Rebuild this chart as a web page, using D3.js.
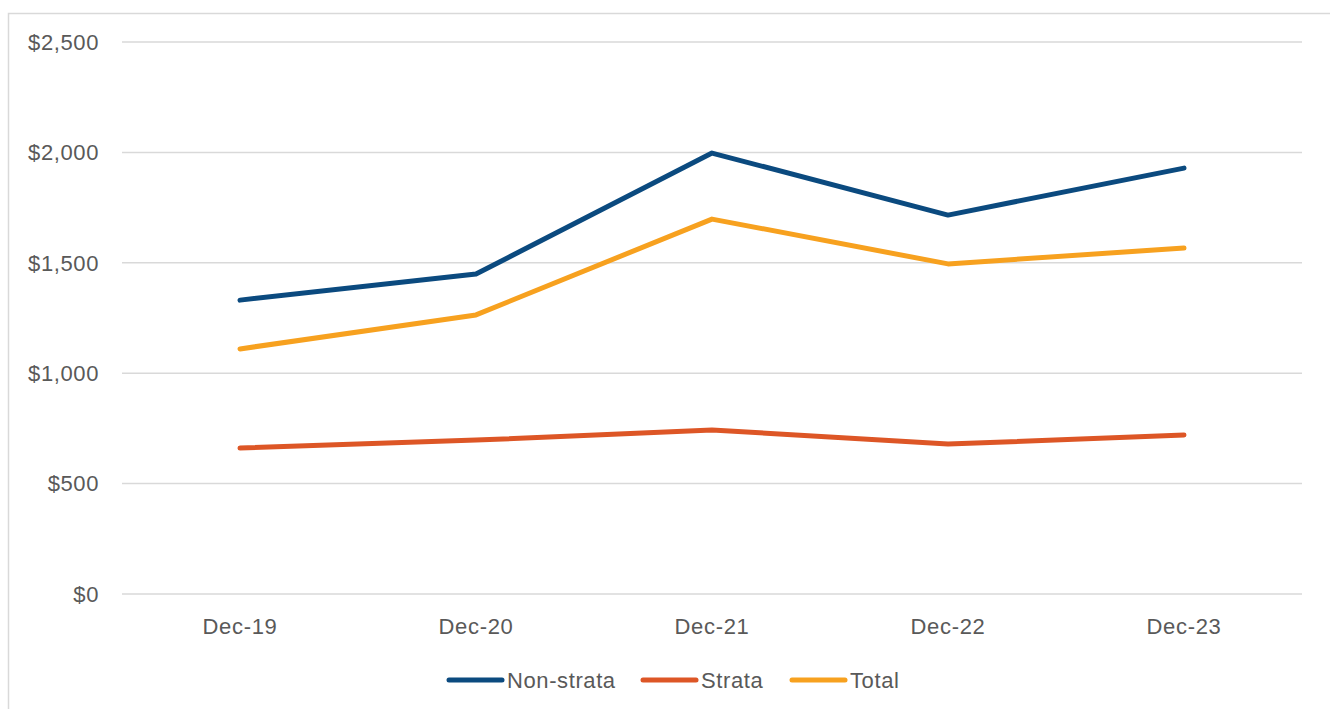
<!DOCTYPE html>
<html>
<head>
<meta charset="utf-8">
<script src="https://cdn.jsdelivr.net/npm/d3@7"></script>
<style>
  body { margin: 0; background: #fff; }
  svg { display: block; font-family: "Liberation Sans", Arial, sans-serif; }
</style>
</head>
<body>
<svg id="chart" width="1330" height="709"></svg>
<script>
// chart data
var categories = ['Dec-19', 'Dec-20', 'Dec-21', 'Dec-22', 'Dec-23']
var nonStrata = [1331, 1449, 1997, 1716, 1929]
var strata = [661, 697, 743, 679, 720]
var total = [1110, 1264, 1698, 1495, 1567]
var yTicks = [0, 500, 1000, 1500, 2000, 2500]

var seriesNames = ['Non-strata', 'Strata', 'Total']
var seriesValues = [nonStrata, strata, total]
var seriesColors = ['#0b4a7f', '#dd5626', '#f7a11f']

var svg = d3.select('#chart')
var textCol = '#595959'

// outer frame
svg.append('rect')
  .attr('x', 8.5).attr('y', 13.5)
  .attr('width', 1340).attr('height', 720)
  .attr('fill', 'none')
  .attr('stroke', '#d9d9d9')
  .attr('stroke-width', 1.5)

var plotLeft = 122
var plotRight = 1302
var plotTop = 42
var plotBottom = 594

var x = d3.scaleBand().domain(categories).range([plotLeft, plotRight])
var y = d3.scaleLinear().domain([0, 2500]).range([plotBottom, plotTop])

// gridlines
svg.append('g').selectAll('line')
  .data(yTicks)
  .enter().append('line')
  .attr('x1', plotLeft).attr('x2', plotRight)
  .attr('y1', function (d) { return y(d) })
  .attr('y2', function (d) { return y(d) })
  .attr('stroke', '#d9d9d9')
  .attr('stroke-width', 1.5)

// y labels
var fmt = d3.format(',')
svg.append('g').selectAll('text')
  .data(yTicks)
  .enter().append('text')
  .attr('x', 99)
  .attr('y', function (d) { return y(d) })
  .attr('dy', '0.35em')
  .attr('text-anchor', 'end')
  .attr('font-size', 22)
  .attr('letter-spacing', 0.6)
  .attr('fill', textCol)
  .text(function (d) { return '$' + fmt(d) })

// x labels
svg.append('g').selectAll('text')
  .data(categories)
  .enter().append('text')
  .attr('x', function (d) { return x(d) + x.bandwidth() / 2 })
  .attr('y', 634)
  .attr('text-anchor', 'middle')
  .attr('font-size', 22)
  .attr('letter-spacing', 0.7)
  .attr('fill', textCol)
  .text(function (d) { return d })

var line = d3.line()
  .x(function (d, i) { return x(categories[i]) + x.bandwidth() / 2 })
  .y(function (d) { return y(d) })

svg.append('g').selectAll('path')
  .data(seriesValues)
  .enter().append('path')
  .attr('d', function (d) { return line(d) })
  .attr('fill', 'none')
  .attr('stroke', function (d, i) { return seriesColors[i] })
  .attr('stroke-width', 5)
  .attr('stroke-linejoin', 'round')
  .attr('stroke-linecap', 'round')

// legend
var legendX = [449, 643, 792]
var leg = svg.append('g').selectAll('g')
  .data(seriesNames)
  .enter().append('g')
  .attr('transform', function (d, i) { return 'translate(' + legendX[i] + ',680)' })

leg.append('line')
  .attr('x1', 0).attr('x2', 53)
  .attr('stroke', function (d, i) { return seriesColors[i] })
  .attr('stroke-width', 5)
  .attr('stroke-linecap', 'round')

leg.append('text')
  .attr('x', 58)
  .attr('dy', '0.35em')
  .attr('font-size', 22)
  .attr('letter-spacing', 0.6)
  .attr('fill', textCol)
  .text(function (d) { return d })
</script>
</body>
</html>
